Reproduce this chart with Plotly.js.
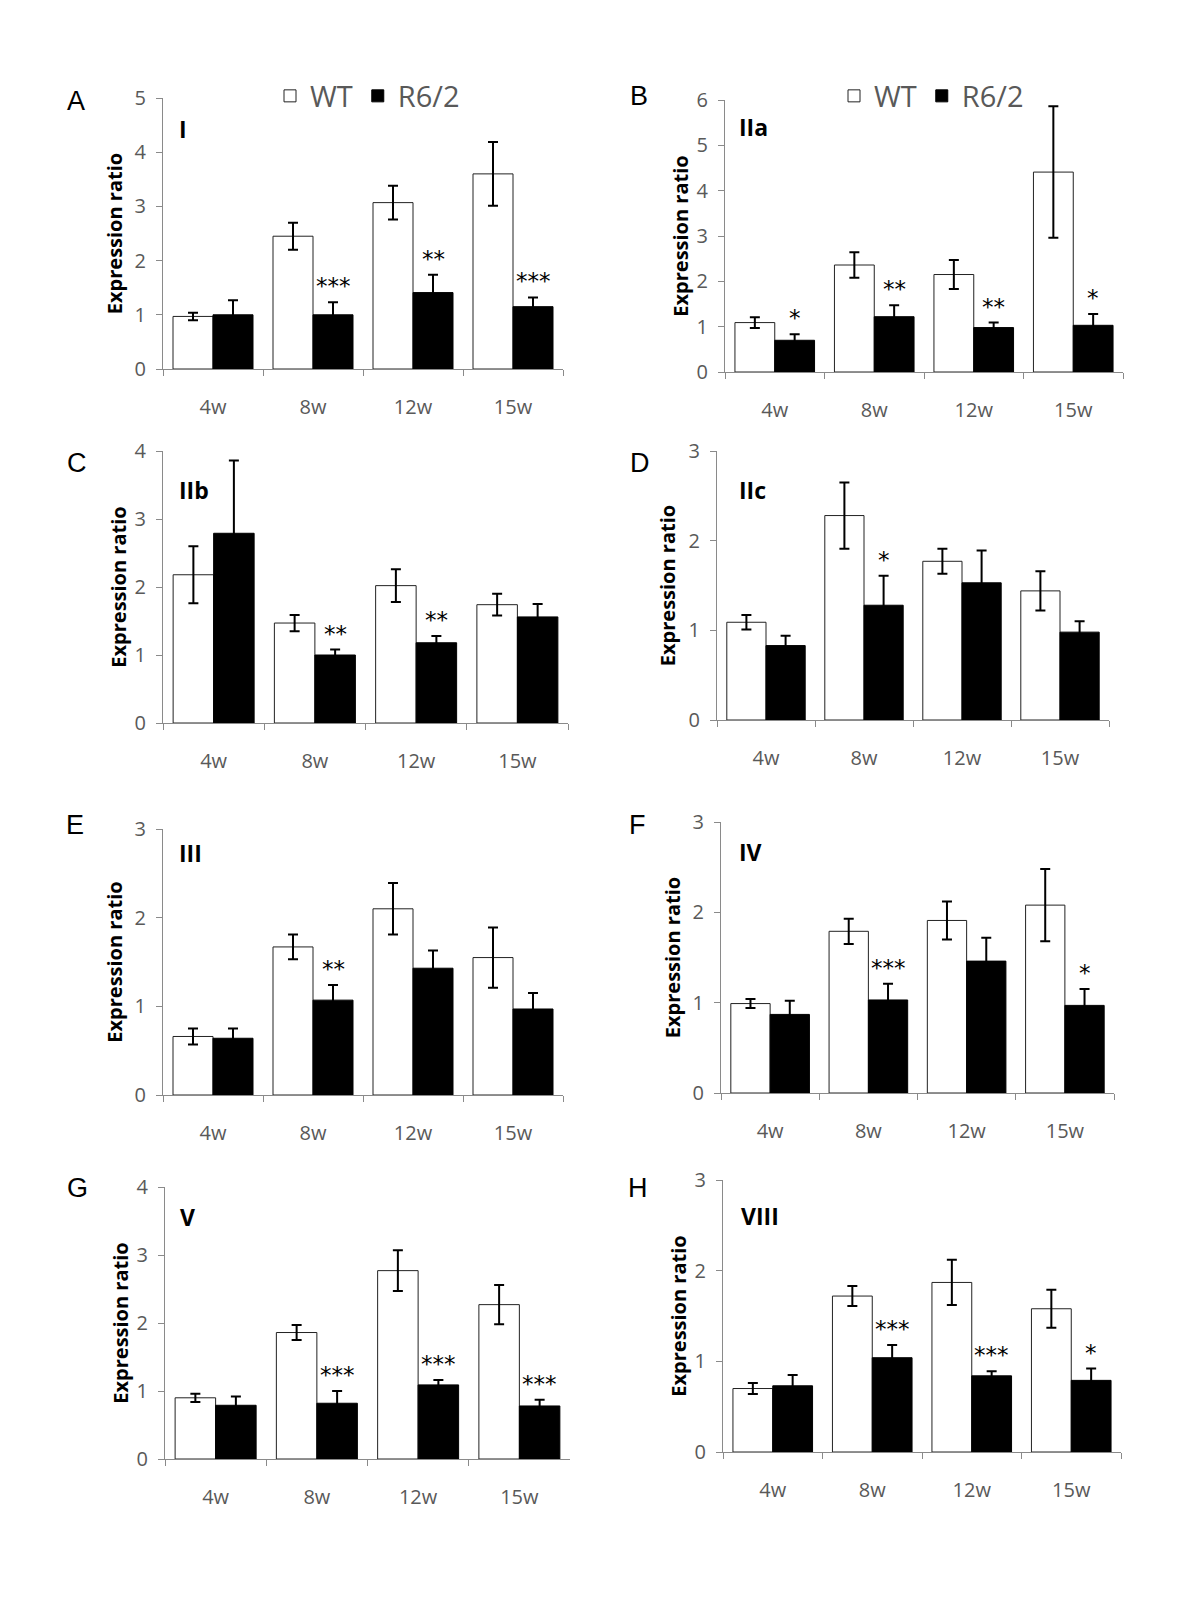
<!DOCTYPE html>
<html>
<head>
<meta charset="utf-8">
<script src="https://cdn.plot.ly/plotly-3.0.1.min.js"></script>
<style>html,body{margin:0;padding:0;background:#fff;}#chart{width:1200px;height:1600px;}</style>
</head>
<body>
<div id="chart"></div>
<script>
// ---------- DATA ----------
const weeks = ['4w', '8w', '12w', '15w'];
const seriesNames = ['WT', 'R6/2'];
const panelLetters = ['A', 'B', 'C', 'D', 'E', 'F', 'G', 'H'];
const panelGenes = ['I', 'IIa', 'IIb', 'IIc', 'III', 'IV', 'V', 'VIII'];
const yMax = [5, 6, 4, 3, 3, 3, 4, 3];

// A - I
const wtA = [0.97, 2.45, 3.07, 3.60];
const wtErrA = [0.07, 0.25, 0.31, 0.59];
const r62A = [1.00, 1.00, 1.41, 1.15];
const r62ErrA = [0.27, 0.23, 0.33, 0.17];
const sigA = ['', '***', '**', '***'];
// B - IIa
const wtB = [1.09, 2.36, 2.15, 4.41];
const wtErrB = [0.12, 0.28, 0.32, 1.45];
const r62B = [0.70, 1.22, 0.98, 1.03];
const r62ErrB = [0.13, 0.25, 0.11, 0.25];
const sigB = ['*', '**', '**', '*'];
// C - IIb
const wtC = [2.18, 1.47, 2.02, 1.74];
const wtErrC = [0.42, 0.12, 0.24, 0.16];
const r62C = [2.79, 1.00, 1.18, 1.56];
const r62ErrC = [1.07, 0.08, 0.10, 0.19];
const sigC = ['', '**', '**', ''];
// D - IIc
const wtD = [1.09, 2.28, 1.77, 1.44];
const wtErrD = [0.08, 0.37, 0.14, 0.22];
const r62D = [0.83, 1.28, 1.53, 0.98];
const r62ErrD = [0.11, 0.33, 0.36, 0.12];
const sigD = ['', '*', '', ''];
// E - III
const wtE = [0.66, 1.67, 2.10, 1.55];
const wtErrE = [0.09, 0.14, 0.29, 0.34];
const r62E = [0.64, 1.07, 1.43, 0.97];
const r62ErrE = [0.11, 0.17, 0.20, 0.18];
const sigE = ['', '**', '', ''];
// F - IV
const wtF = [0.99, 1.79, 1.91, 2.08];
const wtErrF = [0.05, 0.14, 0.21, 0.40];
const r62F = [0.87, 1.03, 1.46, 0.97];
const r62ErrF = [0.15, 0.18, 0.26, 0.18];
const sigF = ['', '***', '', '*'];
// G - V
const wtG = [0.90, 1.86, 2.77, 2.27];
const wtErrG = [0.06, 0.11, 0.30, 0.29];
const r62G = [0.79, 0.82, 1.09, 0.78];
const r62ErrG = [0.13, 0.18, 0.07, 0.09];
const sigG = ['', '***', '***', '***'];
// H - VIII
const wtH = [0.70, 1.72, 1.87, 1.58];
const wtErrH = [0.06, 0.11, 0.25, 0.21];
const r62H = [0.73, 1.04, 0.84, 0.79];
const r62ErrH = [0.12, 0.14, 0.05, 0.13];
const sigH = ['', '***', '***', '*'];

// ---------- LAYOUT GEOMETRY (px) ----------
const W = 1200, H = 1600;
const boxes = [
  {x0: 163, x1: 563, top: 98, bot: 369},
  {x0: 725, x1: 1123, top: 100, bot: 372},
  {x0: 163, x1: 568, top: 451, bot: 723},
  {x0: 717, x1: 1109, top: 451, bot: 720},
  {x0: 163, x1: 563, top: 829, bot: 1095},
  {x0: 721, x1: 1114, top: 822, bot: 1093},
  {x0: 165, x1: 570, top: 1187, bot: 1459},
  {x0: 723, x1: 1121, top: 1180, bot: 1452}
];
const letterPos = [[76, 101], [639, 96], [77, 463], [640, 463], [75, 825], [637, 825], [77, 1188], [638, 1188]];
const genePos = [[177, 129], [737, 127], [177, 490], [737, 490], [177, 853], [737, 852], [178, 1217], [739, 1216]];
const titleStandoff = [6, 2, 2, 7, 6, 6, 2, 2];

const panels = [
  {wt: wtA, wtErr: wtErrA, r62: r62A, r62Err: r62ErrA, sig: sigA},
  {wt: wtB, wtErr: wtErrB, r62: r62B, r62Err: r62ErrB, sig: sigB},
  {wt: wtC, wtErr: wtErrC, r62: r62C, r62Err: r62ErrC, sig: sigC},
  {wt: wtD, wtErr: wtErrD, r62: r62D, r62Err: r62ErrD, sig: sigD},
  {wt: wtE, wtErr: wtErrE, r62: r62E, r62Err: r62ErrE, sig: sigE},
  {wt: wtF, wtErr: wtErrF, r62: r62F, r62Err: r62ErrF, sig: sigF},
  {wt: wtG, wtErr: wtErrG, r62: r62G, r62Err: r62ErrG, sig: sigG},
  {wt: wtH, wtErr: wtErrH, r62: r62H, r62Err: r62ErrH, sig: sigH}
];

const GREY = '#595959';
const AXC = '#8a8a8a';
const tickFont = {family: 'Open Sans, sans-serif', size: 20, color: GREY};
const legendFont = {family: 'Open Sans, sans-serif', size: 29, color: GREY};

const traces = [];
const annotations = [];
const layout = {
  width: W, height: H,
  margin: {l: 0, r: 0, t: 0, b: 0},
  paper_bgcolor: '#fff', plot_bgcolor: 'rgba(0,0,0,0)',
  barmode: 'group', bargap: 0.2, bargroupgap: 0,
  font: {family: 'Open Sans, sans-serif', color: GREY},
  legend: {orientation: 'h', x: 270 / W, y: 1 - 96 / H, xanchor: 'left', yanchor: 'middle',
           font: legendFont, bgcolor: 'rgba(0,0,0,0)', traceorder: 'normal'},
  legend2: {orientation: 'h', x: 834 / W, y: 1 - 96 / H, xanchor: 'left', yanchor: 'middle',
            font: legendFont, bgcolor: 'rgba(0,0,0,0)', traceorder: 'normal'},
  annotations: annotations
};

panels.forEach((p, i) => {
  const s = i === 0 ? '' : String(i + 1);
  const b = boxes[i];
  const legendName = i === 1 ? 'legend2' : 'legend';
  traces.push({
    type: 'bar', x: weeks, y: p.wt, name: seriesNames[0],
    xaxis: 'x' + s, yaxis: 'y' + s, legend: legendName, showlegend: i < 2,
    marker: {color: '#ffffff', line: {color: '#222', width: 1}},
    error_y: {type: 'data', array: p.wtErr, visible: true, color: '#000', thickness: 2, width: 5},
    hoverinfo: 'skip'
  });
  traces.push({
    type: 'bar', x: weeks, y: p.r62, name: seriesNames[1],
    xaxis: 'x' + s, yaxis: 'y' + s, legend: legendName, showlegend: i < 2,
    marker: {color: '#000000', line: {color: '#000', width: 1}},
    error_y: {type: 'data', array: p.r62Err, visible: true, color: '#000', thickness: 2, width: 5},
    hoverinfo: 'skip'
  });
  layout['xaxis' + s] = {
    domain: [b.x0 / W, b.x1 / W], anchor: 'y' + s,
    type: 'category', range: [-0.5, 3.5],
    showline: true, linecolor: AXC, linewidth: 1,
    ticks: 'outside', tickson: 'boundaries', ticklen: 6, tickcolor: AXC,
    showgrid: false, zeroline: false,
    tickfont: tickFont, ticklabelstandoff: 20
  };
  layout['yaxis' + s] = {
    domain: [1 - b.bot / H, 1 - b.top / H], anchor: 'x' + s,
    range: [0, yMax[i]], dtick: 1, tick0: 0,
    showline: true, linecolor: AXC, linewidth: 1,
    ticks: 'outside', ticklen: 6, tickcolor: AXC,
    showgrid: false, zeroline: false,
    tickfont: tickFont, ticklabelstandoff: 6,
    title: {text: 'Expression ratio', standoff: titleStandoff[i],
            font: {family: 'Open Sans, sans-serif', size: 20, color: '#000', weight: 'bold'}}
  };
  // significance stars above R6/2 bars
  p.sig.forEach((sg, j) => {
    if (!sg) return;
    annotations.push({
      xref: 'x' + s, yref: 'y' + s, x: j + 0.2, y: p.r62[j] + p.r62Err[j],
      text: sg, showarrow: false, xanchor: 'center', yanchor: 'bottom', yshift: 1,
      font: {family: 'DejaVu Sans, sans-serif', size: 23, color: '#000'}
    });
  });
  // panel letter
  annotations.push({
    xref: 'paper', yref: 'paper', x: letterPos[i][0] / W, y: 1 - letterPos[i][1] / H,
    text: panelLetters[i], showarrow: false, xanchor: 'center', yanchor: 'middle',
    font: {family: 'Liberation Sans, Arial, sans-serif', size: 27, color: '#000'}
  });
  // gene label
  annotations.push({
    xref: 'paper', yref: 'paper', x: genePos[i][0] / W, y: 1 - genePos[i][1] / H,
    text: '<b>' + panelGenes[i] + '</b>', showarrow: false, xanchor: 'left', yanchor: 'middle',
    font: {family: 'Open Sans, sans-serif', size: 23, color: '#000'}
  });
});

Plotly.newPlot('chart', traces, layout, {staticPlot: true, displayModeBar: false});
</script>
</body>
</html>
